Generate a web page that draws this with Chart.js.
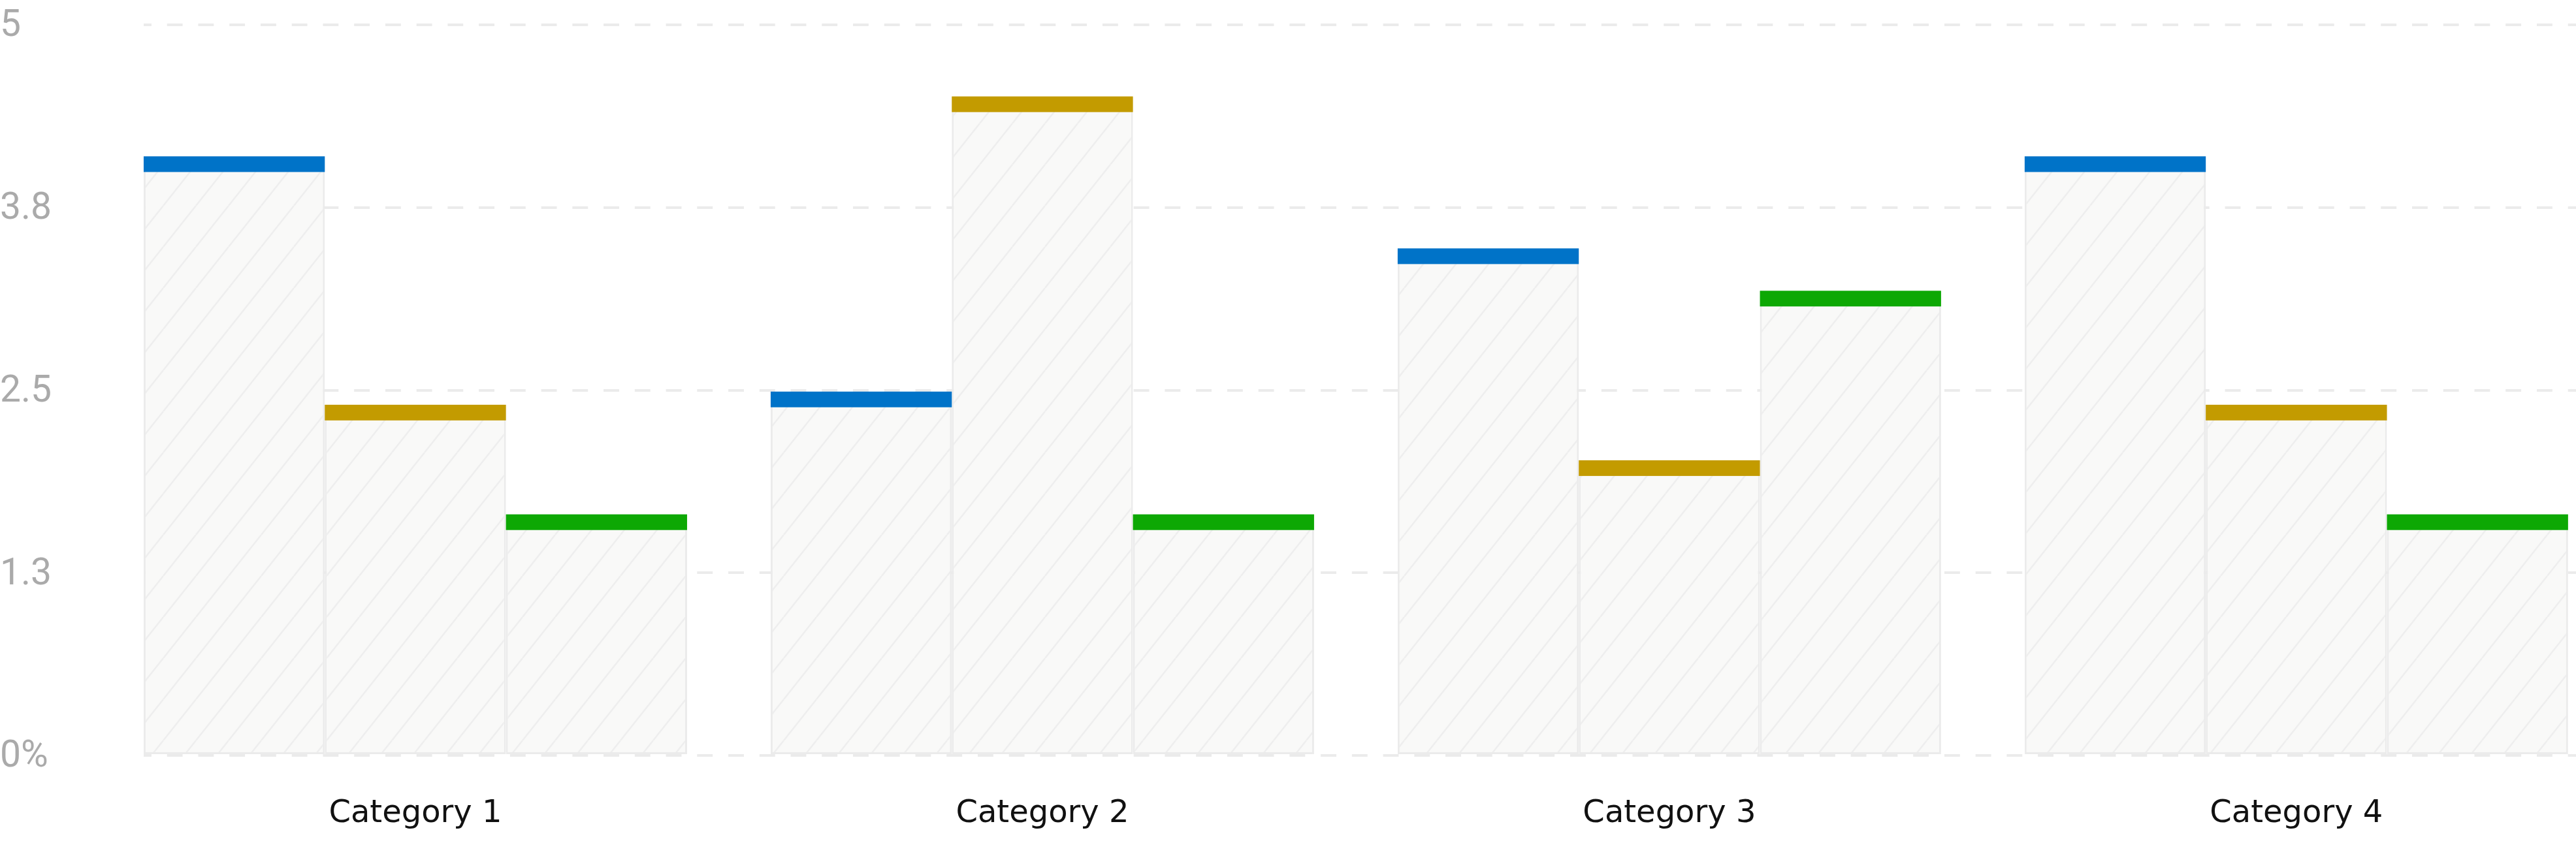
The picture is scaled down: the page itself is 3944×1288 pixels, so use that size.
<!DOCTYPE html>
<html><head><meta charset="utf-8">
<script src="https://cdn.jsdelivr.net/npm/chart.js@4.4.1/dist/chart.umd.min.js"></script>
<style>html,body{margin:0;padding:0;background:#fff;overflow:hidden}#wrap{width:3944px;height:1288px;position:relative}</style>
</head><body><div id="wrap"><canvas id="c" width="3944" height="1288"></canvas></div>
<script>
const categories = ['Category 1', 'Category 2', 'Category 3', 'Category 4'];
const seriesNames = ['Series 1', 'Series 2', 'Series 3'];
const series1 = [4.10, 2.49, 3.47, 4.10];
const series2 = [2.40, 4.51, 2.02, 2.40];
const series3 = [1.65, 1.65, 3.18, 1.65];
const seriesColors = ['#0073c8', '#c39b00', '#0da804'];
const yTickLabels = ['0%', '1.3', '2.5', '3.8', '5'];

function makeHatch() {
  const w = 50, h = 63;
  const pc = document.createElement('canvas');
  pc.width = w; pc.height = h;
  const g = pc.getContext('2d');
  g.fillStyle = '#f9f9f8';
  g.fillRect(0, 0, w, h);
  g.strokeStyle = '#eeeeee';
  g.lineWidth = 2.5;
  g.beginPath();
  for (let k = -1; k <= 1; k++) {
    g.moveTo(k * w, h);
    g.lineTo((k + 1) * w, 0);
  }
  g.stroke();
  return g.createPattern(pc, 'repeat');
}
const hatch = makeHatch();

const allSeries = [series1, series2, series3];
const datasets = allSeries.map((vals, s) => ({
  label: seriesNames[s],
  data: vals.map((v, i) => ({ x: i + 1, y: v })),
  backgroundColor: hatch,
  borderColor: '#ebebeb',
  borderWidth: 3,
  borderSkipped: false,
  capColor: seriesColors[s],
  categoryPercentage: 0.8667,
  barPercentage: 1.0
}));

const capPlugin = {
  id: 'caps',
  afterDatasetsDraw(chart) {
    const ctx = chart.ctx;
    chart.data.datasets.forEach((ds, di) => {
      const meta = chart.getDatasetMeta(di);
      meta.data.forEach(el => {
        const p = el.getProps(['x', 'y', 'width'], true);
        ctx.save();
        ctx.fillStyle = ds.capColor;
        ctx.fillRect(p.x - p.width / 2, p.y, p.width, 24);
        ctx.restore();
      });
    });
  }
};

new Chart(document.getElementById('c'), {
  type: 'bar',
  data: { datasets },
  plugins: [capPlugin],
  options: {
    responsive: false,
    animation: false,
    devicePixelRatio: 1,
    layout: { padding: { top: 38, right: 0, bottom: 0, left: 0 } },
    plugins: { legend: { display: false }, tooltip: { enabled: false } },
    scales: {
      x: {
        type: 'linear',
        min: 0.5667,
        max: 4.446,
        offset: false,
        bounds: 'data',
        grid: { display: false, drawTicks: false, offset: false },
        border: { display: false },
        afterBuildTicks(scale) { scale.ticks = categories.map((c, i) => ({ value: i + 1 })); },
        ticks: {
          autoSkip: false,
          maxRotation: 0,
          padding: 61,
          color: '#111111',
          font: { family: 'DejaVu Sans', size: 48 },
          callback: (v) => categories[Math.round(v) - 1]
        },
        afterFit(scale) { scale.height = 131; scale.paddingLeft = 0; scale.paddingRight = 0; }
      },
      y: {
        min: 0,
        max: 5,
        grid: { color: '#ebebeb', lineWidth: 4, drawTicks: false },
        border: { display: false, dash: [23.87, 23.87], dashOffset: 12 },
        ticks: {
          stepSize: 1.25,
          crossAlign: 'far',
          padding: 0,
          labelOffset: 3,
          color: '#aaaaaa',
          font: { family: 'Roboto', size: 57 },
          callback: (v, i) => yTickLabels[i]
        },
        afterFit(scale) { scale.width = 220; scale.paddingTop = 0; scale.paddingBottom = 0; }
      }
    }
  }
});
</script></body></html>
